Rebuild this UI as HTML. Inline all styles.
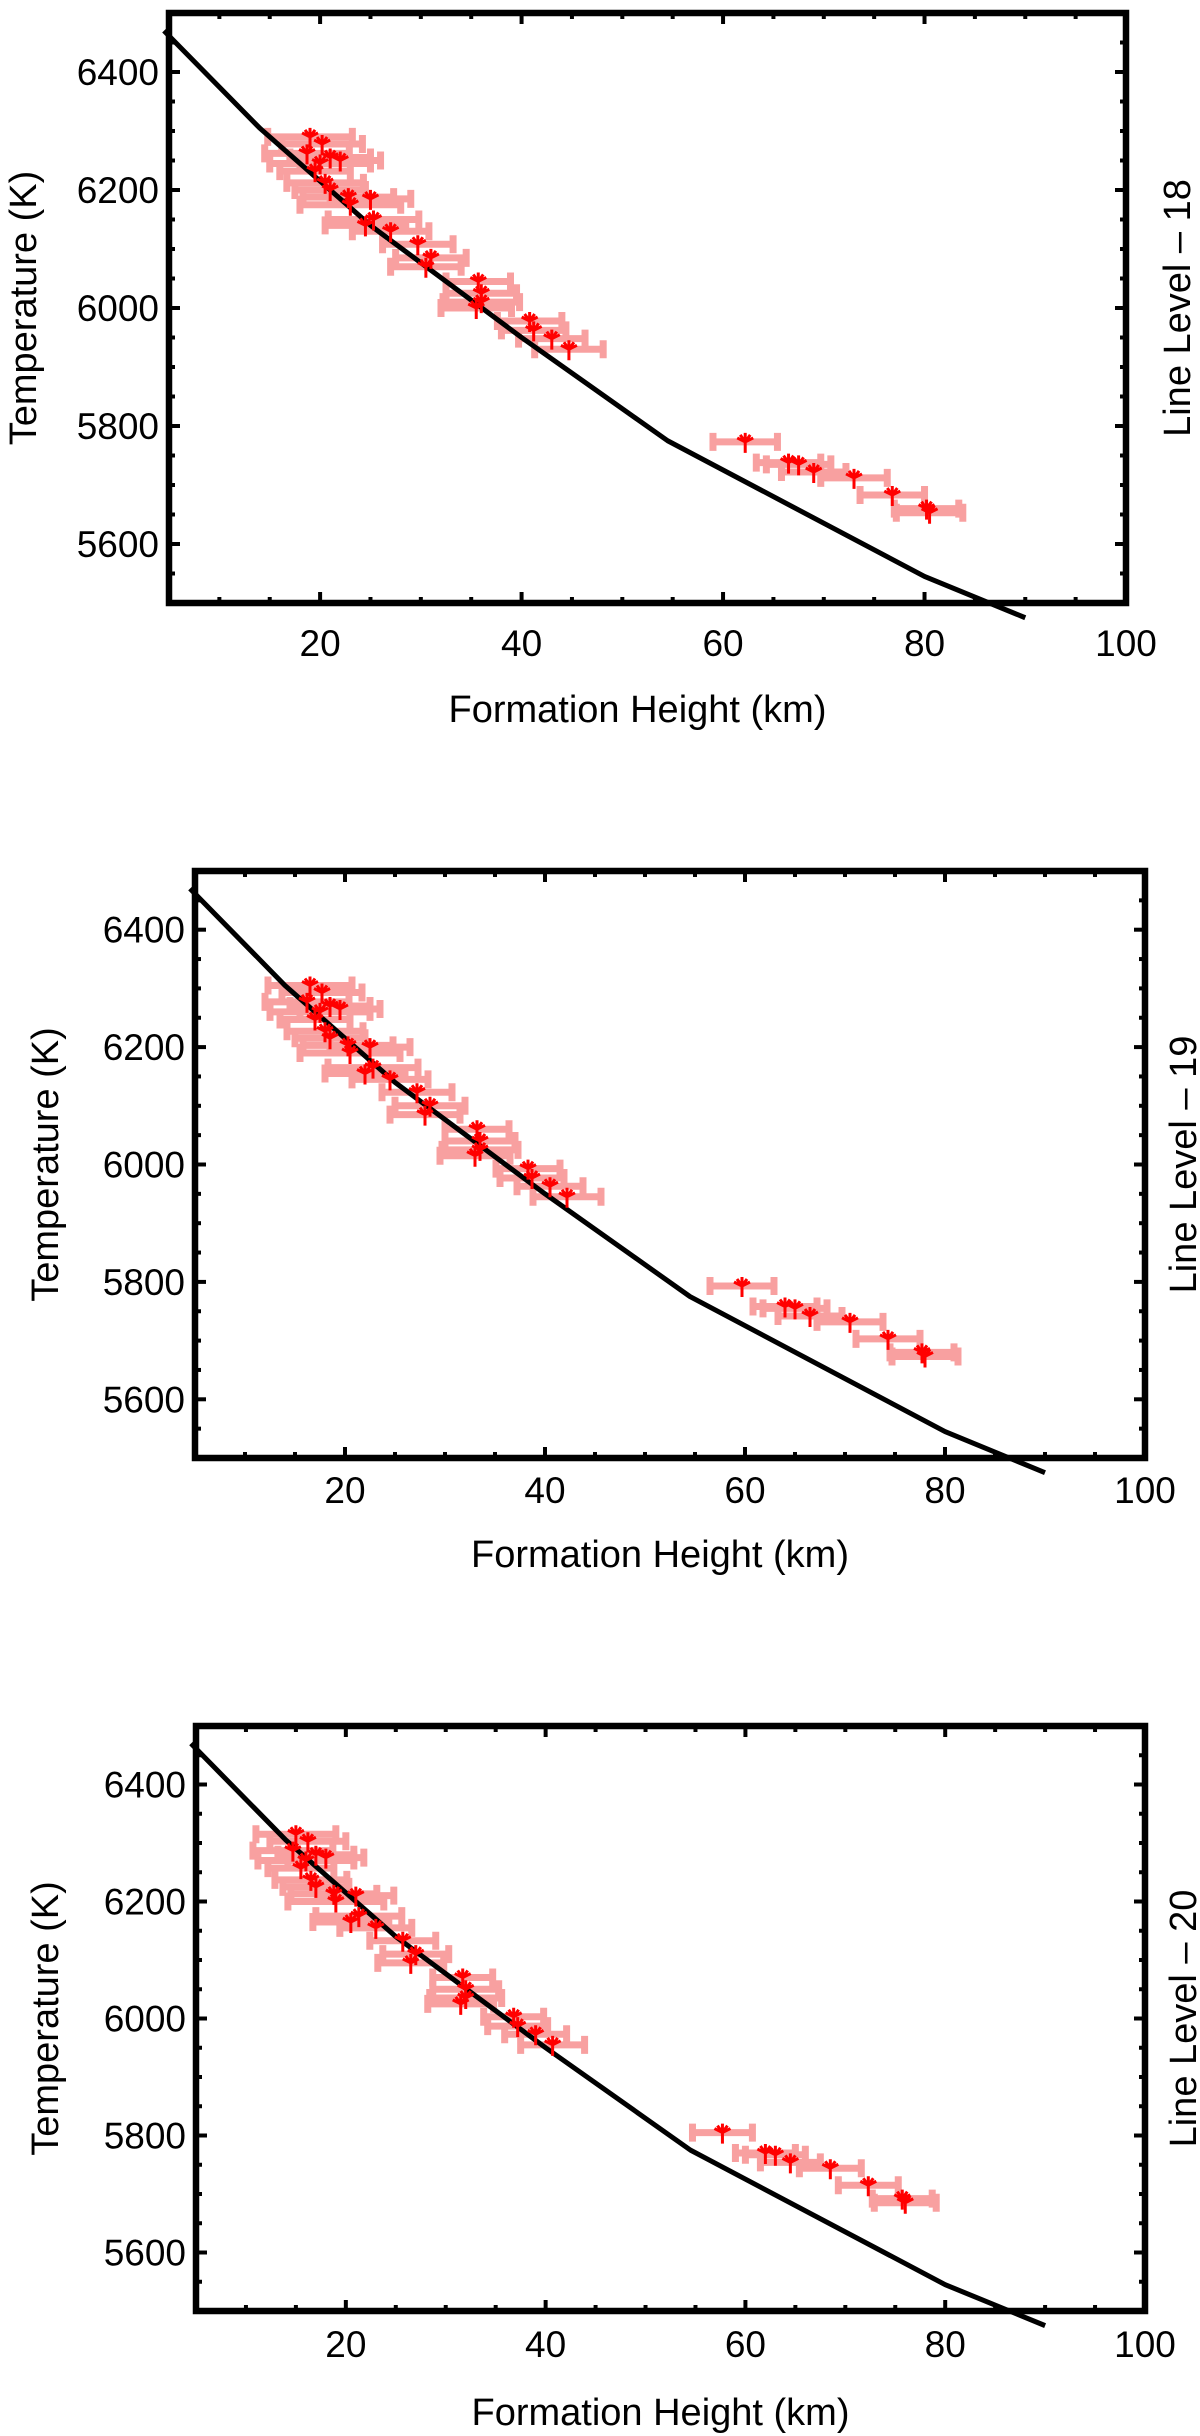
<!DOCTYPE html>
<html><head><meta charset="utf-8"><style>
html,body{margin:0;padding:0;background:#fff;}
svg{display:block;font-family:"Liberation Sans",Arial,sans-serif;}
</style></head><body>
<svg id="chart" width="1200" height="2436" viewBox="0 0 1200 2436" xmlns="http://www.w3.org/2000/svg"></svg>
<script>
// Shared model curve
const curveX = [4.5, 14, 25, 40, 54.5, 80, 90];
const curveY = [6470, 6305, 6140, 5950, 5775, 5545, 5475];
const xTicks = [20, 40, 60, 80, 100];
const yTicks = [5600, 5800, 6000, 6200, 6400];
const xDomain = [5, 100];
const yDomain = [5500, 6500];

// Line level 18
const l18X = [19,20.2,18.7,21,20,22,19.5,20.5,21,22.8,25,23,25.3,24.5,27,29.7,31,30.5,35.7,36,36,35.5,40.8,41.2,43,44.7,62.2,66.5,67.5,69,73,76.8,80.2,80.5];
const l18Y = [6290,6278,6262,6255,6245,6250,6232,6212,6200,6188,6185,6175,6150,6140,6130,6108,6085,6070,6045,6025,6010,6000,5978,5962,5948,5930,5773,5738,5735,5722,5712,5683,5660,5653];
const l18Err = [4.2,4,4.2,4,5,4,3.5,3.8,3.5,4.5,4,5,4.5,4,3.8,3.5,3.5,3.5,3.2,3.5,3.8,3.5,3.2,3.2,3.3,3.4,3.2,3.2,3.2,3.2,3.3,3.2,3.2,3.3];

// Line level 19
const l19X = [16.5,17.7,16.2,18.5,17.5,19.5,17,18,18.5,20.3,22.5,20.5,22.8,22,24.5,27.2,28.5,28,33.2,33.5,33.5,33,38.3,38.7,40.5,42.2,59.7,64,65,66.5,70.5,74.3,77.7,78];
const l19Y = [6305,6293,6277,6270,6260,6265,6247,6227,6215,6203,6200,6190,6165,6155,6145,6123,6100,6085,6060,6040,6025,6015,5993,5977,5963,5945,5793,5758,5755,5742,5732,5703,5680,5673];
const l19Err = [4.2,4,4.2,4,5,4,3.5,3.8,3.5,4.5,4,5,4.5,4,3.8,3.5,3.5,3.5,3.2,3.5,3.8,3.5,3.2,3.2,3.3,3.4,3.2,3.2,3.2,3.2,3.3,3.2,3.2,3.3];

// Line level 20
const l20X = [15,16.2,14.7,17,16,18,15.5,16.5,17,18.8,21,19,21.3,20.5,23,25.7,27,26.5,31.7,32,32,31.5,36.8,37.2,39,40.7,57.7,62,63,64.5,68.5,72.3,75.7,76];
const l20Y = [6315,6303,6287,6280,6270,6275,6257,6237,6225,6213,6210,6200,6175,6165,6155,6133,6110,6095,6070,6050,6035,6025,6003,5987,5973,5955,5805,5770,5767,5754,5744,5715,5692,5685];
const l20Err = [4,3.8,4,3.8,4.8,3.8,3.3,3.6,3.3,4.3,3.8,4.8,4.3,3.8,3.6,3.3,3.3,3.3,3,3.3,3.6,3.3,3,3,3.1,3.2,3,3,3,3,3.1,3,3,3.1];

const NS = 'http://www.w3.org/2000/svg';
const svg = document.getElementById('chart');
function mk(tag, attrs, parent){
  const e = document.createElementNS(NS, tag);
  for (const k in attrs) e.setAttribute(k, attrs[k]);
  (parent||svg).appendChild(e);
  return e;
}

function drawPlot(name, box, xs, ys, errs, label, tickLabelY, titleY, yTitleX, rightX){
  const g = mk('g', {});
  
  
  const sx = v => box.l + (v - xDomain[0]) / (xDomain[1] - xDomain[0]) * (box.r - box.l);
  const sy = v => box.b - (v - yDomain[0]) / (yDomain[1] - yDomain[0]) * (box.b - box.t);

  const tg = mk('g', {stroke:'#000','stroke-width':4}, g);
  
  
  for (let v = 10; v <= 95; v += 5) {
    const len = (v % 20 === 0) ? 11 : 6;
    const x = sx(v);
    mk('line', {x1:x, y1:box.b, x2:x, y2:box.b-len}, tg);
    mk('line', {x1:x, y1:box.t, x2:x, y2:box.t+len}, tg);
  }
  for (let v = 5550; v <= 6450; v += 50) {
    const len = (v % 200 === 0) ? 11 : 6;
    const y = sy(v);
    mk('line', {x1:box.l, y1:y, x2:box.l+len, y2:y}, tg);
    mk('line', {x1:box.r, y1:y, x2:box.r-len, y2:y}, tg);
  }

  const eg = mk('g', {stroke:'#f8a0a0','stroke-width':7,fill:'none'}, g);
  
  
  for (let i = 0; i < xs.length; i++) {
    const x1 = sx(xs[i]-errs[i]), x2 = sx(xs[i]+errs[i]), y = sy(ys[i]);
    const bar = mk('path', {d:`M${x1},${y}H${x2}M${x1},${y-9}V${y+9}M${x2},${y-9}V${y+9}`}, eg);
    
    
  }

  let d = '';
  for (let i = 0; i < curveX.length; i++) d += (i ? 'L' : 'M') + sx(curveX[i]) + ',' + sy(curveY[i]);
  const c = mk('path', {d:d, stroke:'#000','stroke-width':5, fill:'none','stroke-linejoin':'round'}, g);
  
  

  const sg = mk('g', {stroke:'#f00','stroke-width':3,fill:'none'}, g);
  
  
  for (let i = 0; i < xs.length; i++) {
    const x = sx(xs[i]), y = sy(ys[i]);
    const s = mk('path', {d:`M${x},${y-9}V${y+11}M${x},${y}L${x-8},${y-4}M${x},${y}L${x+8},${y-4}M${x},${y}L${x-5},${y-7}M${x},${y}L${x+5},${y-7}`}, sg);
    
    
  }

  const f = mk('rect', {x:box.l, y:box.t, width:box.r-box.l, height:box.b-box.t, fill:'none', stroke:'#000','stroke-width':6.5}, g);
  
  

  xTicks.forEach(v => {
    const t = mk('text', {x:sx(v), y:tickLabelY, 'font-size':37, 'text-anchor':'middle'}, g);
    t.textContent = v;
    
    
  });
  yTicks.forEach(v => {
    const t = mk('text', {x:box.l-10, y:sy(v)+13, 'font-size':37, 'text-anchor':'end'}, g);
    t.textContent = v;
    
    
  });

  const xt = mk('text', {x:(box.l+box.r)/2-10, y:titleY, 'font-size':38, 'text-anchor':'middle'}, g);
  xt.textContent = 'Formation Height (km)';
  
  

  const cy = (box.t + box.b) / 2;
  const yt = mk('text', {x:yTitleX, y:cy, 'font-size':38, 'text-anchor':'middle', transform:`rotate(-90 ${yTitleX} ${cy})`}, g);
  yt.textContent = 'Temperature (K)';
  
  

  const rt = mk('text', {x:rightX, y:cy, 'font-size':38, 'text-anchor':'middle', transform:`rotate(-90 ${rightX} ${cy})`}, g);
  rt.textContent = label;
  
  
}

drawPlot('plot-line-level-18', {l:169, r:1126, t:13, b:603}, l18X, l18Y, l18Err, 'Line Level \u2013 18', 656, 722, 36, 1190);
drawPlot('plot-line-level-19', {l:195, r:1145, t:871, b:1458}, l19X, l19Y, l19Err, 'Line Level \u2013 19', 1503, 1567, 58, 1196);
drawPlot('plot-line-level-20', {l:196, r:1145, t:1726, b:2311}, l20X, l20Y, l20Err, 'Line Level \u2013 20', 2357, 2425, 58, 1196);
</script>
</body></html>
